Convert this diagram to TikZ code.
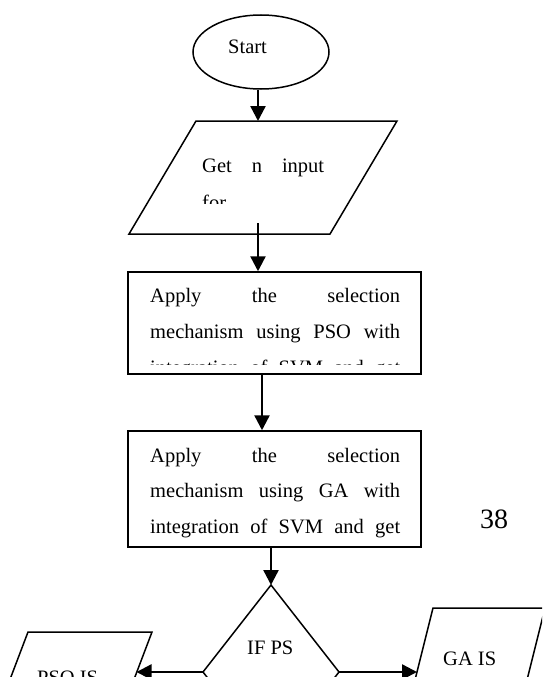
\documentclass[tikz,border=0pt]{standalone}
\usepackage{fontspec}
\setmainfont{Liberation Serif}
\usetikzlibrary{arrows.meta,shapes.geometric}
\begin{document}
\begin{tikzpicture}[x=1pt,y=-1pt,
  shapeline/.style={line width=1.5pt, line join=miter},
  flow/.style={line width=2.4pt, -{Triangle[length=15pt,width=15pt]}},
  txt/.style={inner sep=0pt, anchor=base west, font=\fontsize{20.5}{20.5}\selectfont},
  boxnode/.style={draw, shapeline, minimum width=293pt, inner sep=0pt},
]
\path[use as bounding box] (0,0) rectangle (542,677);
\clip (0,0) rectangle (542,677);

% start terminal
\node[draw, ellipse, shapeline, minimum width=136pt, minimum height=74pt, inner sep=0pt] (start) at (261,52) {};
\node[txt] (starttxt) at (228,53) {Start};

% input parallelogram
\draw[shapeline] (196,121) coordinate (inTL) -- (397,121) coordinate (inTR)
  -- (330,234) coordinate (inBR) -- (129,234) coordinate (inBL) -- cycle;
\coordinate (inTop) at (258,121);
\begin{scope}
  \clip (196,135) rectangle (400,203);
  \node[txt] (getl1) at (202,172) {\hbox to 122pt{Get\hfill n\hfill input}};
  \node[txt] (getl2) at (202,209) {for};
\end{scope}

% PSO selection box
\node[boxnode, minimum height=102pt] (psobox) at (274.5,323) {};
\begin{scope}
  \clip (130,274) rectangle (419,364);
  \node[txt] (psol1) at (150,302) {\hbox to 250pt{Apply\hfill the\hfill selection}};
  \node[txt] (psol2) at (150,338) {\hbox to 250pt{mechanism\hfill using\hfill PSO\hfill with}};
  \node[txt] (psol3) at (150,374) {\hbox to 250pt{integration\hfill of\hfill SVM\hfill and\hfill get}};
\end{scope}

% GA selection box
\node[boxnode, minimum height=116pt] (gabox) at (274.5,489) {};
\begin{scope}
  \clip (130,433) rectangle (419,545);
  \node[txt] (gal1) at (150,462) {\hbox to 250pt{Apply\hfill the\hfill selection}};
  \node[txt] (gal2) at (150,497) {\hbox to 250pt{mechanism\hfill using\hfill GA\hfill with}};
  \node[txt] (gal3) at (150,533) {\hbox to 250pt{integration\hfill of\hfill SVM\hfill and\hfill get}};
\end{scope}

% page number
\node[inner sep=0pt, anchor=base west, font=\fontsize{28}{28}\selectfont] (pagenum) at (480,528) {38};

% decision
\draw[shapeline] (203,672) coordinate (dl) -- (271,585) coordinate (dtop)
  -- (339,672) coordinate (dr) -- (271,759) coordinate (dbot) -- cycle;
\node[txt] (iftxt) at (247,654) {IF PS};

% result parallelograms
\draw[shapeline] (28,632) coordinate (poTL) -- (152,632) coordinate (poTR)
  -- (111,740) -- (-13,740) -- cycle;
\coordinate (poIn) at (136.5,672);
\node[txt] (psotxt) at (37,684) {PSO IS};

\draw[shapeline] (433,608) coordinate (goTL) -- (545,608) coordinate (goTR)
  -- (520,708) -- (408,708) -- cycle;
\coordinate (goIn) at (417,672);
\node[txt] (gatxt) at (443,665) {GA IS};

% connectors
\coordinate (a2) at (258,223);
\coordinate (a3) at (262,0);
\draw[flow] (start.south -| inTop) -- (inTop);
\draw[flow] (a2) -- (psobox.north -| a2);
\draw[flow] (psobox.south -| a3) -- (gabox.north -| a3);
\draw[flow] (gabox.south -| dtop) -- (dtop);
\draw[flow] (dl) -- (poIn);
\draw[flow] (dr) -- (goIn);
\end{tikzpicture}
\end{document}
